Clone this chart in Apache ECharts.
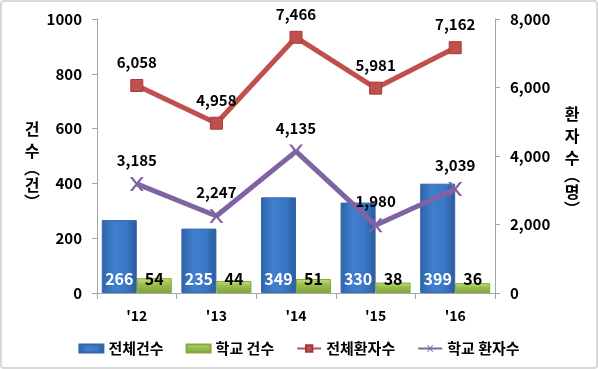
<!DOCTYPE html>
<html><head><meta charset="utf-8">
<script src="https://cdn.jsdelivr.net/npm/echarts@6/dist/echarts.min.js"></script>
<style>
html,body{margin:0;padding:0;background:#fff;}
#wrap{position:absolute;left:0;top:0;width:594px;height:365px;border:2px solid #d9d9d9;border-radius:4px;}
#c{width:594px;height:365px;}
</style></head>
<body><div id="wrap"><div id="c"></div></div>
<script>
const categories = ["'12", "'13", "'14", "'15", "'16"];
const totalCases = [266, 235, 349, 330, 399];
const schoolCases = [54, 44, 51, 38, 36];
const totalPatients = [6058, 4958, 7466, 5981, 7162];
const schoolPatients = [3185, 2247, 4135, 1980, 3039];
const leftTicks = [0, 200, 400, 600, 800, 1000];
const rightTicks = [0, 2000, 4000, 6000, 8000];
const leftName = ['건', '수', '︵', '건', '︶'];
const rightName = ['환', '자', '수', '︵', '명', '︶'];

const krFont = '"Noto Sans CJK KR", sans-serif';
const numFont = krFont;
const fmt = v => Number(v).toLocaleString('en-US');
const xPath = 'path://M0,0 L2,0 L5,3 L8,0 L10,0 L6,4 L10,8 L8,8 L5,5 L2,8 L0,8 L4,4 Z';
const vname = arr => arr.map(c => (c === '︵' || c === '︶') ? '{p|' + c + '}' : '{c|' + c + '}').join('\n');
const nameRich = {
  c: {fontFamily: krFont, fontSize: 16, fontWeight: 'bold', fill: '#000', lineHeight: 22, align: 'center'},
  p: {fontFamily: krFont, fontSize: 16, fontWeight: 'bold', fill: '#000', lineHeight: 12, align: 'center'}
};

const chart = echarts.init(document.getElementById('c'));
chart.setOption({
  animation: false,
  textStyle: {fontFamily: krFont},
  grid: {left: 95, right: 101, top: 17, bottom: 74},
  graphic: [
    {type: 'text', left: 22, top: 119, style: {text: vname(leftName), rich: nameRich, align: 'center'}},
    {type: 'text', left: 562, top: 104, style: {text: vname(rightName), rich: nameRich, align: 'center'}}
  ],
  legend: {
    bottom: 6, left: 'center', itemGap: 22, itemWidth: 24, itemHeight: 8,
    textStyle: {fontFamily: krFont, fontSize: 15, fontWeight: 'bold', color: '#000'},
    data: [
      {name: '전체건수', icon: 'rect'},
      {name: '학교 건수', icon: 'rect'},
      {name: '전체환자수'},
      {name: '학교 환자수'}
    ]
  },
  xAxis: {
    type: 'category', data: categories,
    axisLine: {lineStyle: {color: '#a6a6a6'}},
    axisTick: {show: true, length: 6, lineStyle: {color: '#a6a6a6'}},
    axisLabel: {fontFamily: numFont, fontWeight: 'bold', fontSize: 14, color: '#000', margin: 16}
  },
  yAxis: [{
    type: 'value', min: 0, max: 1000, interval: 200,
    axisLine: {show: true, lineStyle: {color: '#a6a6a6'}},
    axisTick: {show: true, length: 5, lineStyle: {color: '#a6a6a6'}},
    splitLine: {show: false},
    axisLabel: {fontFamily: numFont, fontWeight: 'bold', fontSize: 15, color: '#000', margin: 15, formatter: v => String(v)}
  }, {
    type: 'value', min: 0, max: 8000, interval: 2000,
    axisLine: {show: true, lineStyle: {color: '#a6a6a6'}},
    axisTick: {show: true, length: 5, lineStyle: {color: '#a6a6a6'}},
    splitLine: {show: false},
    axisLabel: {fontFamily: numFont, fontWeight: 'bold', fontSize: 15, color: '#000', margin: 15, formatter: fmt}
  }],
  series: [{
    name: '전체건수', type: 'bar', data: totalCases, barGap: '0%', barCategoryGap: '12%',
    itemStyle: {
      color: new echarts.graphic.LinearGradient(0, 0, 1, 0, [
        {offset: 0, color: '#2f63a8'}, {offset: 0.35, color: '#3f7fcf'}, {offset: 0.7, color: '#3a78c6'}, {offset: 1, color: '#2a5a9a'}
      ]),
      borderColor: '#3567a8', borderWidth: 1
    },
    label: {show: true, position: 'insideBottom', distance: 6, color: '#fff',
      fontFamily: numFont, fontWeight: 'bold', fontSize: 16}
  }, {
    name: '학교 건수', type: 'bar', data: schoolCases,
    itemStyle: {
      color: new echarts.graphic.LinearGradient(0, 0, 0, 1, [
        {offset: 0, color: '#c6e07f'}, {offset: 0.4, color: '#9bc04f'}, {offset: 1, color: '#7fa33a'}
      ]),
      borderColor: '#86a83e', borderWidth: 1
    },
    label: {show: true, position: 'insideBottom', distance: 6, color: '#000',
      fontFamily: numFont, fontWeight: 'bold', fontSize: 16}
  }, {
    name: '전체환자수', type: 'line', yAxisIndex: 1, data: totalPatients,
    symbol: 'rect', symbolSize: 12,
    lineStyle: {color: '#c0504d', width: 5},
    itemStyle: {color: '#c0504d', borderColor: '#a33a37', borderWidth: 1},
    label: {show: true, position: 'top', distance: 9, formatter: p => fmt(p.value),
      fontFamily: numFont, fontWeight: 'bold', fontSize: 15, color: '#000'}
  }, {
    name: '학교 환자수', type: 'line', yAxisIndex: 1, data: schoolPatients,
    symbol: xPath, symbolSize: 14,
    lineStyle: {color: '#8064a2', width: 5},
    itemStyle: {color: '#8064a2'},
    label: {show: true, position: 'top', distance: 9, formatter: p => fmt(p.value),
      fontFamily: numFont, fontWeight: 'bold', fontSize: 15, color: '#000'}
  }]
});
</script></body></html>
